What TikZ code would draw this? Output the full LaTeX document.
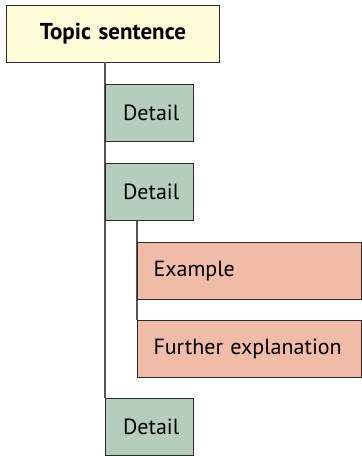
\documentclass[tikz,border=0pt]{standalone}
\usepackage{fontspec}
\setmainfont{PT Sans}
\definecolor{topicfill}{HTML}{FFFCD9}
\definecolor{detailfill}{HTML}{B5CDBC}
\definecolor{subfill}{HTML}{F0BCA8}
\definecolor{edge}{HTML}{2A2A2A}
\definecolor{wire}{HTML}{555555}
\tikzset{
  box/.style={draw=edge, line width=1pt, rectangle, anchor=north west, minimum height=57pt, inner xsep=0pt, inner ysep=0pt, font=\fontsize{22}{26}\selectfont},
  topicbox/.style={box, fill=topicfill, minimum width=213pt, text width=213pt, align=center, font=\fontsize{23}{26}\selectfont\bfseries},
  detailbox/.style={box, fill=detailfill, minimum width=88pt, text width=53pt, align=left},
  subbox/.style={box, fill=subfill, minimum width=224pt, text width=192pt, align=left},
  wireline/.style={draw=wire, line width=1.2pt}
}
\begin{document}
\begin{tikzpicture}[x=1pt,y=-1pt]
\useasboundingbox (0,0) rectangle (362,456);
\coordinate (mainend) at (105,398);
\coordinate (subend) at (137,320);
\node[topicbox] (topic) at (6,5) {Topic sentence};
\draw[wireline] (105,62) -- (mainend);
\draw[wireline] (137,220) -- (subend);
\node[detailbox] (d1) at (105,84) {Detail};
\node[detailbox] (d2) at (105,163) {Detail};
\node[subbox] (ex) at (137,242) {Example};
\node[subbox] (fe) at (137,320) {Further explanation};
\node[detailbox] (d3) at (105,398) {Detail};
\end{tikzpicture}
\end{document}
